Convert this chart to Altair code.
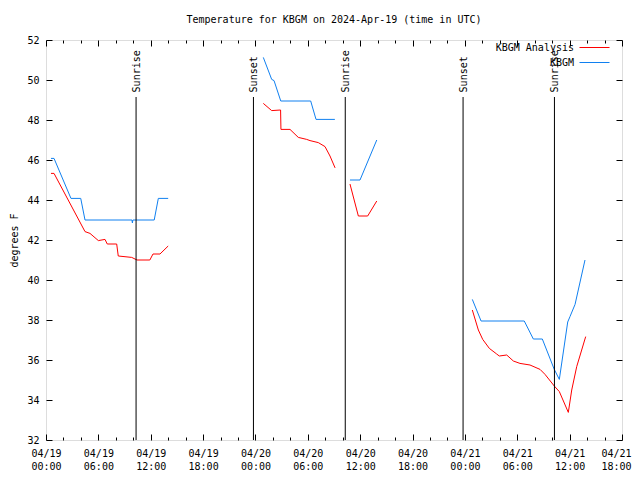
import altair as alt
import pandas as pd

# hours since 2024-04-19 00:00 UTC, temperature in degrees F
obs_seg = [1]*11 + [2]*7 + [3]*3 + [4]*11
obs_hour = [0.57, 0.92, 2.86, 3.98, 4.47, 9.85, 9.9, 9.95, 12.4, 12.87, 14.0,
            24.9, 25.86, 26.13, 26.9, 30.33, 30.94, 33.1,
            34.83, 35.98, 37.9,
            48.85, 49.85, 54.8, 55.84, 56.87, 58.24, 58.82, 59.78, 60.04, 60.62, 61.76]
obs_temp = [46.08, 46.08, 44.08, 44.08, 43.0, 43.0, 42.85, 43.0, 43.0, 44.08, 44.08,
            51.13, 50.03, 49.97, 48.95, 48.95, 48.03, 48.03,
            45.0, 45.0, 47.0,
            39.03, 37.95, 37.95, 37.05, 37.05, 35.53, 35.03, 37.9, 38.17, 38.78, 41.0]

ana_seg = [1]*15 + [2]*13 + [3]*4 + [4]*18
ana_hour = [0.57, 0.92, 4.47, 5.04, 6.0, 6.76, 7.02, 8.1, 8.28, 9.82, 10.43, 11.9, 12.26, 13.06, 14.0,
            24.9, 25.86, 26.88, 26.92, 27.96, 28.91, 29.87, 30.25, 31.2, 31.97, 32.54, 33.1, 33.12,
            34.83, 35.79, 36.86, 37.9,
            48.85, 49.54, 50.04, 50.8, 51.64, 51.94, 52.79, 53.55, 54.31, 55.46, 56.61, 57.18,
            58.24, 58.82, 59.85, 60.24, 60.81, 61.84]
ana_temp = [45.33, 45.33, 42.42, 42.33, 41.97, 42.03, 41.8, 41.8, 41.2, 41.13, 41.0, 41.0, 41.3, 41.3, 41.7,
            48.83, 48.47, 48.5, 47.53, 47.53, 47.13, 47.03, 46.97, 46.87, 46.67, 46.2, 45.63, 45.6,
            44.8, 43.2, 43.2, 43.95,
            38.5, 37.5, 37.03, 36.58, 36.3, 36.2, 36.25, 35.95, 35.83, 35.75, 35.53, 35.28,
            34.7, 34.42, 33.38, 34.5, 35.67, 37.17]

sun_hour = [10.32, 23.77, 34.29, 47.79, 58.26]
sun_label = ["Sunrise", "Sunset", "Sunrise", "Sunset", "Sunrise"]

series_names = ["KBGM Analysis", "KBGM"]
series_colors = ["#ff0000", "#1080f0"]

x_major = list(range(0, 67, 6))
x_all = list(range(0, 67, 2))
y_ticks = list(range(32, 53, 2))

FONT = "DejaVu Sans Mono"

df = pd.concat([
    pd.DataFrame({"hour": ana_hour, "temp": ana_temp, "seg": ana_seg, "series": series_names[0]}),
    pd.DataFrame({"hour": obs_hour, "temp": obs_temp, "seg": obs_seg, "series": series_names[1]}),
])
sun = pd.DataFrame({"hour": sun_hour, "label": sun_label,
                    "top": [49.15]*5, "bottom": [32]*5, "ytext": [49.38]*5})

xscale = alt.Scale(domain=[0, 66], nice=False, zero=False)
yscale = alt.Scale(domain=[32, 52], nice=False, zero=False)
tick_cond = {"condition": {"test": "datum.value % 6 === 0", "value": 6}, "value": 3}

label_expr = ("['04/' + (19 + floor(datum.value / 24)), "
              "(datum.value % 24 < 10 ? '0' : '') + (datum.value % 24) + ':00']")
last_align = {"condition": {"test": "datum.value >= 66", "value": "right"}, "value": "center"}
last_offset = {"condition": {"test": "datum.value >= 66", "value": 9}, "value": 0}

lines = alt.Chart(df).mark_line(strokeWidth=1).encode(
    x=alt.X("hour:Q", scale=xscale,
            axis=alt.Axis(orient="bottom", values=x_major, labelExpr=label_expr, ticks=False,
                          domain=False, grid=False, title=None, labelFont=FONT, labelFontSize=10,
                          labelColor="black", labelPadding=8, labelLineHeight=13,
                          labelFlush=False, labelOverlap=False, labelAlign=last_align,
                          labelOffset=last_offset)),
    y=alt.Y("temp:Q", scale=yscale,
            axis=alt.Axis(orient="left", values=y_ticks, ticks=False, domain=False, grid=False,
                          title="degrees F", titleFont=FONT, titleFontSize=10, titleFontWeight="normal",
                          titleColor="black", titlePadding=7, labelFont=FONT, labelFontSize=10,
                          labelColor="black", labelPadding=7)),
    color=alt.Color("series:N", scale=alt.Scale(domain=series_names, range=series_colors),
                    legend=alt.Legend(orient="none", legendX=543, legendY=2, title=None,
                                      symbolType="M-3,0H3", symbolSize=100, symbolStrokeWidth=1,
                                      labelAlign="right", labelOffset={"expr": "-26"}, labelFont=FONT,
                                      labelFontSize=10, labelColor="black", rowPadding=4,
                                      padding=0)),
    detail="seg:N",
)

rules = alt.Chart(sun).mark_rule(color="black", strokeWidth=1).encode(
    x=alt.X("hour:Q", scale=xscale,
            axis=alt.Axis(orient="top", offset=-400, values=x_all, labels=False, tickSize=tick_cond,
                          tickColor="black", domain=False, grid=False, title=None)),
    y=alt.Y("top:Q", scale=yscale,
            axis=alt.Axis(orient="right", offset=-576, values=y_ticks, labels=False, tickSize=6,
                          tickColor="black", domain=False, grid=False, title=None)),
    y2="bottom:Q",
)

texts = alt.Chart(sun).mark_text(angle=270, align="left", baseline="middle", font=FONT,
                                 fontSize=10, color="black", dy=1).encode(
    x=alt.X("hour:Q", scale=xscale,
            axis=alt.Axis(orient="bottom", offset=-400, values=x_all, labels=False, tickSize=tick_cond,
                          tickColor="black", domain=False, grid=False, title=None)),
    y=alt.Y("ytext:Q", scale=yscale,
            axis=alt.Axis(orient="left", offset=-576, values=y_ticks, labels=False, tickSize=6,
                          tickColor="black", domain=False, grid=False, title=None)),
    text="label:N",
)

chart = alt.layer(lines, rules, texts).resolve_axis(x="independent", y="independent").properties(
    width=576, height=400,
    padding={"left": 38, "top": 32, "right": 10, "bottom": 32},
    autosize=alt.AutoSizeParams(type="none"),
    title=alt.TitleParams("Temperature for KBGM on 2024-Apr-19 (time in UTC)", font=FONT,
                          fontSize=10, fontWeight="normal", color="black", anchor="middle", offset=10),
).configure_view(stroke="black", strokeWidth=1).configure(background="white")

chart.save("out.html", embed_options={"renderer": "svg", "actions": False})
